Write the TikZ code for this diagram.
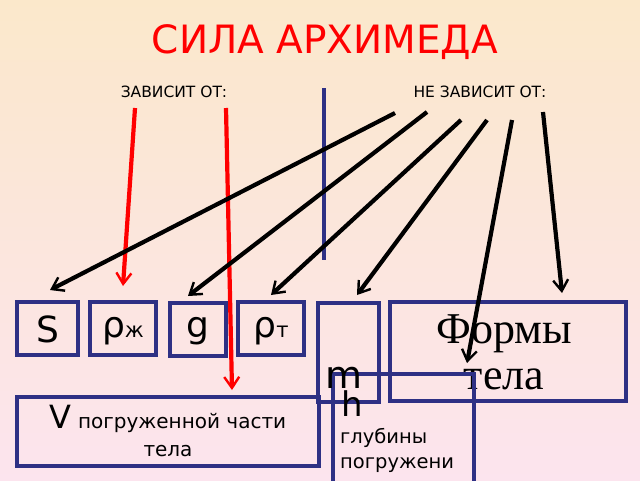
\documentclass[tikz,border=0pt]{standalone}
\usepackage{fontspec}
\setmainfont{DejaVu Sans}
\newfontfamily\serifft{Liberation Serif}
\usetikzlibrary{arrows.meta}
\definecolor{bx}{HTML}{2E3084}
\definecolor{topc}{HTML}{FBE8CB}
\definecolor{botc}{HTML}{FCE4EE}
\begin{document}
\begin{tikzpicture}[x=1pt,y=-1pt,
  box/.style={draw=bx,line width=3.2pt,inner sep=0pt},
  arr/.style={line width=4.2pt,-{Straight Barb[length=11pt,width=15pt,line width=2.4pt]}},
  rarr/.style={arr,red}]
\shade[top color=topc,bottom color=botc] (0,0) rectangle (640,480);
\useasboundingbox (0,0) rectangle (640,480);
\node[red,font=\fontsize{39}{39}\selectfont] (title) at (325,42) {СИЛА АРХИМЕДА};
\node[font=\fontsize{15.5}{15.5}\selectfont] (dep) at (174,92) {ЗАВИСИТ ОТ:};
\node[font=\fontsize{15.5}{15.5}\selectfont] (ndep) at (480,92) {НЕ ЗАВИСИТ ОТ:};
\draw[bx,line width=4pt] (324,88) coordinate (l1) -- (324,260) coordinate (l2);
% boxes
\draw[box] (17,302) rectangle (78,355); \node[font=\fontsize{36}{36}\selectfont] (S) at (47.5,329) {S};
\draw[box] (90,302) rectangle (156,355); \node[font=\fontsize{36}{36}\selectfont] (rz) at (123,331) {ρ\fontsize{21}{21}\selectfont ж};
\draw[box] (170,303) rectangle (226,356); \node[font=\fontsize{36}{36}\selectfont] (g) at (198,331) {g};
\draw[box] (238,302) rectangle (304,355); \node[font=\fontsize{36}{36}\selectfont] (rt) at (271,331) {ρ\fontsize{21}{21}\selectfont т};
\draw[box] (390,302) rectangle (626,401);
\node[font=\serifft\fontsize{44}{46}\selectfont,align=center] (form) at (504,352) {Формы\\тела};
\draw[box] (17,397) rectangle (319,466);
\node[font=\fontsize{20}{28}\selectfont,align=center] (V) at (168,431) {{\fontsize{32}{32}\selectfont V} погруженной части\\тела};
\draw[box] (318,303) rectangle (379,402);
\draw[box] (333,374) rectangle (474,490);
\node[font=\fontsize{38}{38}\selectfont] (m) at (344,378) {m};
\node[font=\fontsize{34}{34}\selectfont] (h) at (352,404) {h};
\node[font=\fontsize{19.5}{25}\selectfont,align=left,anchor=north west,inner sep=0pt] (gl) at (340,428) {глубины\\погружени};
% arrows
\coordinate (a1) at (135,108); \coordinate (b1) at (123,286);
\coordinate (a2) at (226,108); \coordinate (b2) at (232,390);
\draw[rarr] (a1) -- (b1);
\draw[rarr] (a2) -- (b2);
\coordinate (c1) at (395,113); \coordinate (d1) at (50,290);
\coordinate (c2) at (427,112); \coordinate (d2) at (188,296);
\coordinate (c3) at (461,120); \coordinate (d3) at (271,295);
\coordinate (c4) at (487,120); \coordinate (d4) at (357,295);
\coordinate (c5) at (512,120); \coordinate (d5) at (467,363);
\coordinate (c6) at (543,112); \coordinate (d6) at (562,293);
\foreach \i in {1,...,6} \draw[arr] (c\i) -- (d\i);
\end{tikzpicture}
\end{document}
